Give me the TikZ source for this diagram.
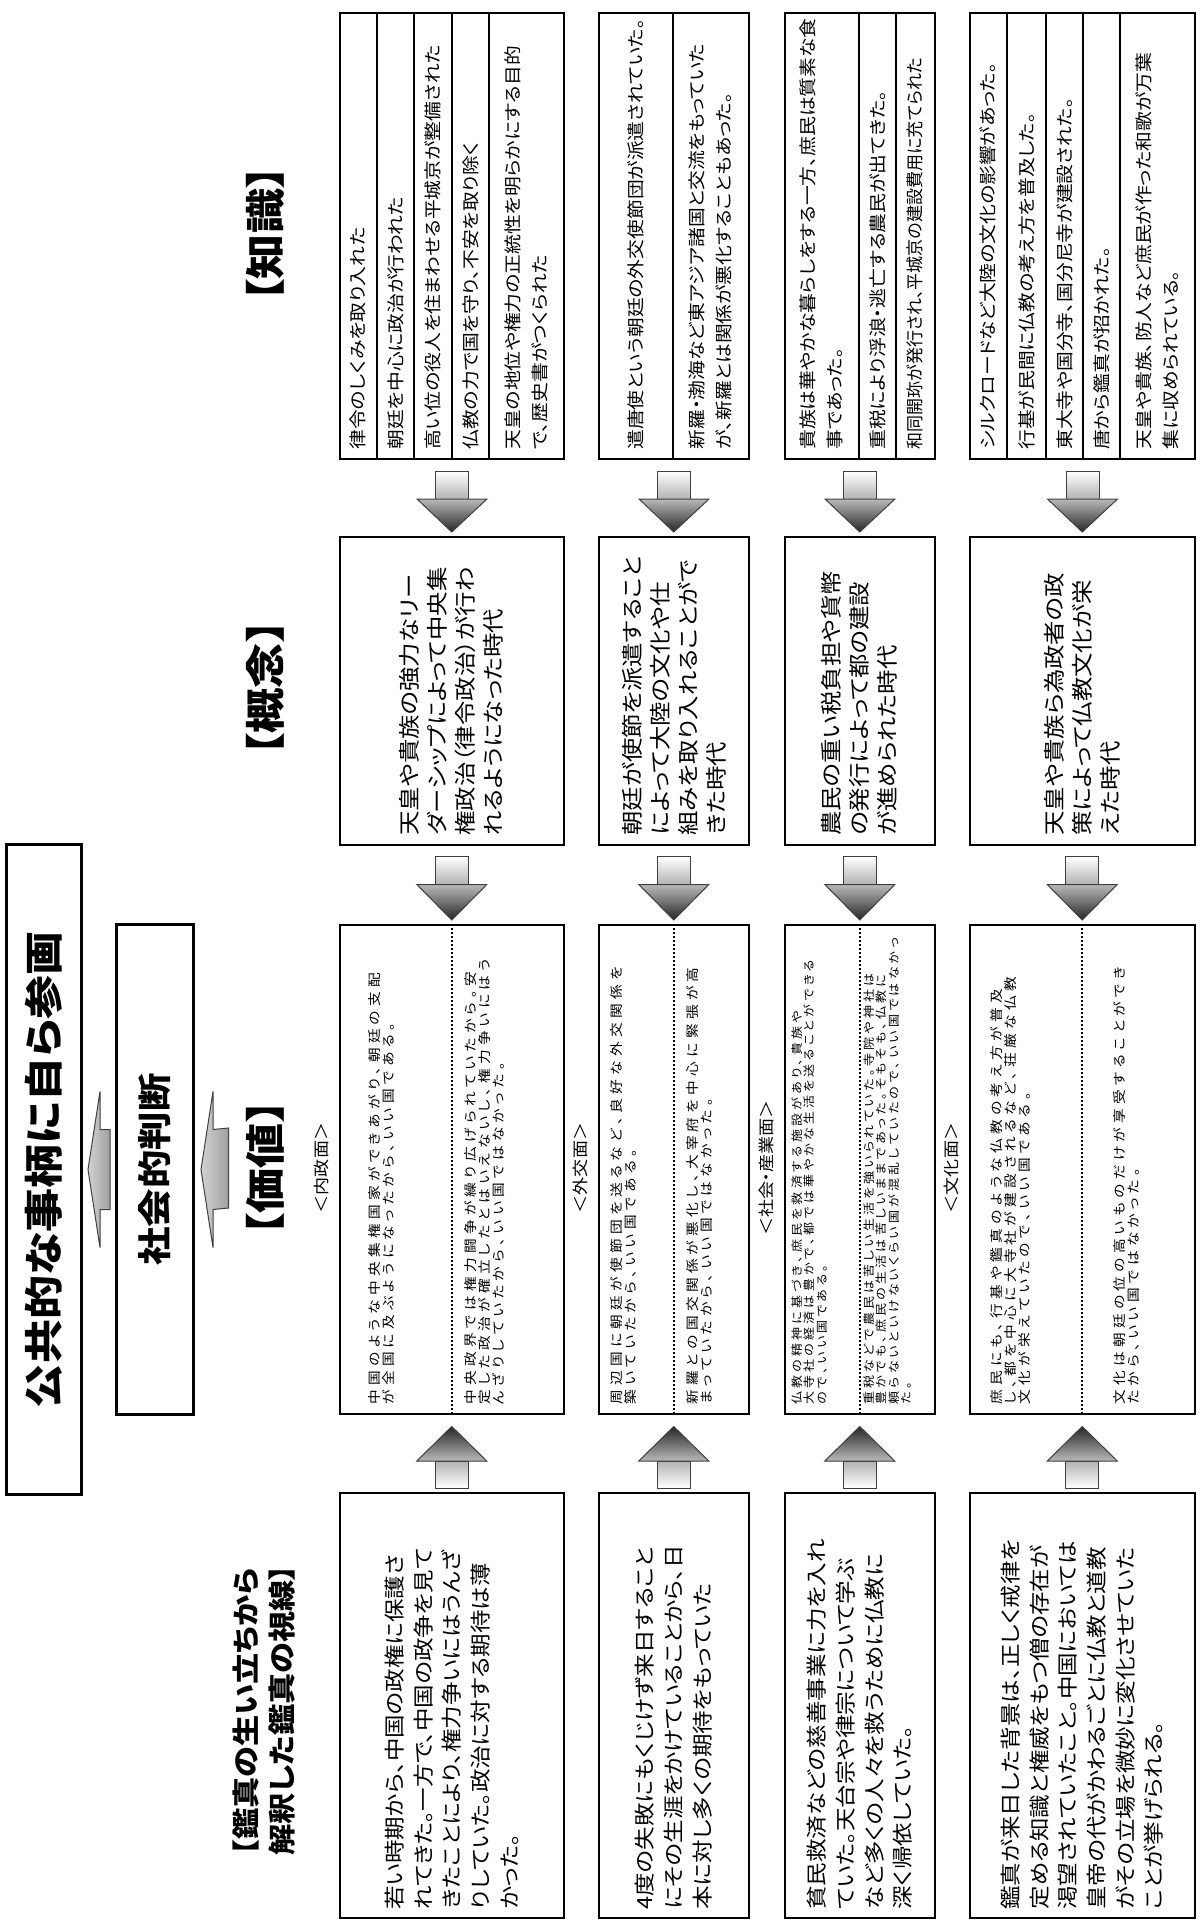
\documentclass[tikz,border=0pt]{standalone}
\usepackage{fontspec}
\newfontfamily\jp[RawFeature=+palt]{Noto Sans CJK JP}
\usetikzlibrary{calc}
\makeatletter
\def\Lspc#1#2{{\def\Lspc@sep{\kern#1}\Lspc@loop#2\@nil}}
\def\Lspc@loop#1{\ifx#1\@nil\else#1\Lspc@sep\expandafter\Lspc@loop\fi}
\makeatother
\newcommand\myDn[2]{%
  \shadedraw[arrowline, top color=white, bottom color=gray!60]
    ($(#1.south)+(-8.25pt,-5.5pt)$) rectangle ($(#1.south)+(8.25pt,-19.5pt)$);
  \shadedraw[arrowline, top color=gray!55, bottom color=black!85]
    ($(#1.south)+(-17.5pt,-19.5pt)$) -- ($(#1.south)+(17.5pt,-19.5pt)$) -- ($(#2.north)+(0,2pt)$) -- cycle;}
\newcommand\myUp[2]{%
  \shadedraw[arrowline, top color=gray!60, bottom color=white]
    ($(#1.north)+(-8.25pt,2pt)$) rectangle ($(#1.north)+(8.25pt,15.5pt)$);
  \shadedraw[arrowline, top color=black!85, bottom color=gray!55]
    ($(#1.north)+(-17.5pt,15.5pt)$) -- ($(#1.north)+(17.5pt,15.5pt)$) -- ($(#2.south)+(0,-6pt)$) -- cycle;}
\newcommand\myLeft[2]{%
  \shadedraw[arrowline, left color=gray!35, right color=gray!75]
    (#2) -- ($(#2)+(6pt,39pt)$) -- ($(#2)+(6pt,20pt)$) -- ($(#1)+(0,20pt)$) -- ($(#1)+(0,-20pt)$) -- ($(#2)+(6pt,-20pt)$) -- ($(#2)+(6pt,-39pt)$) -- cycle;}
\begin{document}
\begin{tikzpicture}[x=0.5pt,y=-0.5pt,
  box/.style={draw, line width=0.75pt, inner sep=0pt, anchor=north west},
  kbox/.style={box, line width=1pt},
  bigbox/.style={box, line width=1.5pt},
  txt/.style={rotate=90, xscale=1.13, inner sep=0pt, align=left},
  ktxt/.style={txt, anchor=west, font=\jp\fontsize{8.75pt}{13.5pt}\selectfont},
  ctxt/.style={txt, anchor=west, font=\jp\fontsize{10.8pt}{14pt}\selectfont},
  gtxt/.style={txt, anchor=west, font=\jp\fontsize{10.4pt}{14.35pt}\selectfont},
  vtxt/.style={txt, anchor=north west, font=\jp\fontsize{6.5pt}{7pt}\selectfont},
  vtxts/.style={txt, anchor=north west, font=\jp\fontsize{5.75pt}{6.25pt}\selectfont},
  hdr/.style={txt, anchor=center, font=\jp\bfseries\fontsize{20pt}{24pt}\selectfont},
  lbl/.style={txt, anchor=center, font=\jp\fontsize{8pt}{9pt}\selectfont},
  divk/.style={line width=1pt},
  divv/.style={line width=1.1pt, dash pattern=on 1.1pt off 0.9pt},
  arrowline/.style={draw=black!75, line width=0.5pt},
]
\useasboundingbox (0,0) rectangle (1200,1921);

% ---------- title / judgement ----------
\node[bigbox, minimum width=37.5pt, minimum height=325pt] (title) at (5,843) {};
\node[txt, anchor=center, font=\jp\bfseries\fontsize{19.5pt}{22pt}\selectfont] (titlet) at (title.center) {公共的な事柄に自ら参画};
\node[bigbox, minimum width=38.5pt, minimum height=245pt] (sj) at (115,923) {};
\node[txt, anchor=center, font=\jp\bfseries\fontsize{17pt}{20pt}\selectfont] (sjt) at (sj.center) {社会的判断};

% ---------- headers ----------
\node[hdr] (hK) at (265,234) {【知識】};
\node[hdr] (hC) at (265,688) {【概念】};
\node[hdr] (hV) at (265,1168) {【価値】};
\node[txt, anchor=center, font=\jp\bfseries\fontsize{13.8pt}{18pt}\selectfont] (hG) at (264,1710) {【鑑真の生い立ちから\\解釈した鑑真の視線】};

% ---------- knowledge boxes ----------
\node[kbox, minimum width=112pt, minimum height=223pt] (k1) at (339,12) {};
\node[kbox, minimum width=75pt, minimum height=223pt] (k2) at (598,12) {};
\node[kbox, minimum width=75pt, minimum height=223pt] (k3) at (784,12) {};
\node[kbox, minimum width=112.5pt, minimum height=223pt] (k4) at (969,12) {};
\foreach \xx in {377,414,452,489,673,859,896,1007,1046,1083,1120}
  \draw[divk] (\xx,12) -- (\xx,458);

\node[ktxt] (k1a) at (358,450) {律令のしくみを取り入れた};
\node[ktxt] (k1b) at (395.5,450) {朝廷を中心に政治が行われた};
\node[ktxt] (k1c) at (433,450) {高い位の役人を住まわせる平城京が整備された};
\node[ktxt] (k1d) at (470.5,450) {仏教の力で国を守り、不安を取り除く};
\node[ktxt] (k1e) at (526,450) {天皇の地位や権力の正統性を明らかにする目的\\で、歴史書がつくられた};
\node[ktxt] (k2a) at (635.5,450) {遣唐使という朝廷の外交使節団が派遣されていた。};
\node[ktxt] (k2b) at (710.5,450) {新羅・渤海など東アジア諸国と交流をもっていた\\が、新羅とは関係が悪化することもあった。};
\node[ktxt] (k3a) at (821.5,450) {貴族は華やかな暮らしをする一方、庶民は質素な食\\事であった。};
\node[ktxt] (k3b) at (877.5,450) {重税により浮浪・逃亡する農民が出てきた。};
\node[ktxt, xscale=0.86] (k3c) at (915,450) {和同開珎が発行され、平城京の建設費用に充てられた};
\node[ktxt] (k4a) at (988,450) {シルクロードなど大陸の文化の影響があった。};
\node[ktxt] (k4b) at (1026.5,450) {行基が民間に仏教の考え方を普及した。};
\node[ktxt] (k4c) at (1064.5,450) {東大寺や国分寺、国分尼寺が建設された。};
\node[ktxt] (k4d) at (1101.5,450) {唐から鑑真が招かれた。};
\node[ktxt] (k4e) at (1157,450) {天皇や貴族、防人など庶民が作った和歌が万葉\\集に収められている。};

% ---------- concept boxes ----------
\node[box, minimum width=112pt, minimum height=154pt] (c1) at (339,536) {};
\node[box, minimum width=75pt, minimum height=154pt] (c2) at (598,536) {};
\node[box, minimum width=75pt, minimum height=154pt] (c3) at (784,536) {};
\node[box, minimum width=112.5pt, minimum height=154pt] (c4) at (969,536) {};
\node[ctxt] (c1t) at (c1.center |- 0,836) {天皇や貴族の強力なリー\\ダーシップによって中央集\\権政治（律令政治）が行わ\\れるようになった時代};
\node[ctxt] (c2t) at (c2.center |- 0,836) {朝廷が使節を派遣すること\\によって大陸の文化や仕\\組みを取り入れることがで\\きた時代};
\node[ctxt] (c3t) at (c3.center |- 0,836) {農民の重い税負担や貨幣\\の発行によって都の建設\\が進められた時代};
\node[ctxt] (c4t) at (c4.center |- 0,836) {天皇や貴族ら為政者の政\\策によって仏教文化が栄\\えた時代};

% ---------- value boxes ----------
\node[box, minimum width=112pt, minimum height=244.5pt] (v1) at (339,924) {};
\node[box, minimum width=75pt, minimum height=244.5pt] (v2) at (598,924) {};
\node[box, minimum width=75pt, minimum height=244.5pt] (v3) at (784,924) {};
\node[box, minimum width=112.5pt, minimum height=244.5pt] (v4) at (969,924) {};
\draw[divv] (v1.north) -- (v1.south);
\draw[divv] (v2.north) -- (v2.south);
\draw[divv] (v3.north) -- (v3.south);
\draw[divv] (v4.north) -- (v4.south);

\node[lbl] (l1) at (321,1168) {＜内政面＞};
\node[lbl] (l2) at (580.5,1168) {＜外交面＞};
\node[lbl] (l3) at (766,1168) {＜社会・産業面＞};
\node[lbl] (l4) at (951.5,1168) {＜文化面＞};

\node[vtxt] (v1a) at (368,1405) {\Lspc{1.9pt}{中国のような中央集権国家ができあがり、朝廷の支配}\\\Lspc{1.9pt}{が全国に及ぶようになったから、いい国である。}};
\node[vtxt] (v1b) at (464,1405) {\Lspc{1.9pt}{中央政界では権力闘争が繰り広げられていたから。安}\\\Lspc{1.9pt}{定した政治が確立したとはいえないし、権力争いにはう}\\\Lspc{1.9pt}{んざりしていたから、いい国ではなかった。}};
\node[vtxt] (v2a) at (610,1405) {\Lspc{1.9pt}{周辺国に朝廷が使節団を送るなど、良好な外交関係を}\\\Lspc{1.9pt}{築いていたから、いい国である。}};
\node[vtxt] (v2b) at (686,1405) {\Lspc{1.9pt}{新羅との国交関係が悪化し、大宰府を中心に緊張が高}\\\Lspc{1.9pt}{まっていたから、いい国ではなかった。}};
\node[vtxts] (v3a) at (791,1405) {\Lspc{1.4pt}{仏教の精神に基づき、庶民を救済する施設があり、貴族や}\\\Lspc{1.4pt}{大寺社の経済は豊かで、都では華やかな生活を送ることができる}\\\Lspc{1.4pt}{ので、いい国である。}};
\node[vtxts] (v3b) at (863,1405) {\Lspc{1.4pt}{重税などで農民は苦しい生活を強いられていた。寺院や神社は}\\\Lspc{1.4pt}{豊かでも、庶民の生活は苦しいままであった。そもそも、仏教に}\\\Lspc{1.4pt}{頼らないといけないくらい国が混乱していたので、いい国ではなかっ}\\\Lspc{1.4pt}{た。}};
\node[vtxt] (v4a) at (990,1405) {\Lspc{1.9pt}{庶民にも、行基や鑑真のような仏教の考え方が普及}\\\Lspc{1.9pt}{し、都を中心に大寺社が建設されるなど、荘厳な仏教}\\\Lspc{1.9pt}{文化が栄えていたので、いい国である。}};
\node[vtxt] (v4b) at (1113,1405) {\Lspc{1.9pt}{文化は朝廷の位の高いものだけが享受することができ}\\\Lspc{1.9pt}{たから、いい国ではなかった。}};

% ---------- Ganjin boxes ----------
\node[box, minimum width=112pt, minimum height=212.5pt] (g1) at (339,1492) {};
\node[box, minimum width=75pt, minimum height=212.5pt] (g2) at (598,1492) {};
\node[box, minimum width=75pt, minimum height=212.5pt] (g3) at (784,1492) {};
\node[box, minimum width=112.5pt, minimum height=212.5pt] (g4) at (969,1492) {};
\node[gtxt] (g1t) at (g1.center |- 0,1910) {若い時期から、中国の政権に保護さ\\れてきた。一方で、中国の政争を見て\\きたことにより、権力争いにはうんざ\\りしていた。政治に対する期待は薄\\かった。};
\node[gtxt] (g2t) at (g2.center |- 0,1910) {4度の失敗にもくじけず来日すること\\にその生涯をかけていることから、日\\本に対し多くの期待をもっていた};
\node[gtxt] (g3t) at (g3.center |- 0,1910) {貧民救済などの慈善事業に力を入れ\\ていた。天台宗や律宗について学ぶ\\など多くの人々を救うために仏教に\\深く帰依していた。};
\node[gtxt] (g4t) at (g4.center |- 0,1910) {鑑真が来日した背景は、正しく戒律を\\定める知識と権威をもつ僧の存在が\\渇望されていたこと。中国においては\\皇帝の代がかわるごとに仏教と道教\\がその立場を微妙に変化させていた\\ことが挙げられる。};

% ---------- arrows ----------
\myDn{k1}{c1}\myDn{k2}{c2}\myDn{k3}{c3}\myDn{k4}{c4}
\myDn{c1}{v1}\myDn{c2}{v2}\myDn{c3}{v3}\myDn{c4}{v4}
\myUp{g1}{v1}\myUp{g2}{v2}\myUp{g3}{v3}\myUp{g4}{v4}
\coordinate (a1tail) at ($(hV.north)+(-8.5pt,0)$);
\coordinate (a1tip) at ($(sj.east)+(3pt,0)$);
\myLeft{a1tail}{a1tip}
\coordinate (a2tail) at ($(sj.west)+(-2.5pt,0)$);
\coordinate (a2tip) at ($(title.east)+(2.5pt,0)$);
\myLeft{a2tail}{a2tip}
\end{tikzpicture}
\end{document}
